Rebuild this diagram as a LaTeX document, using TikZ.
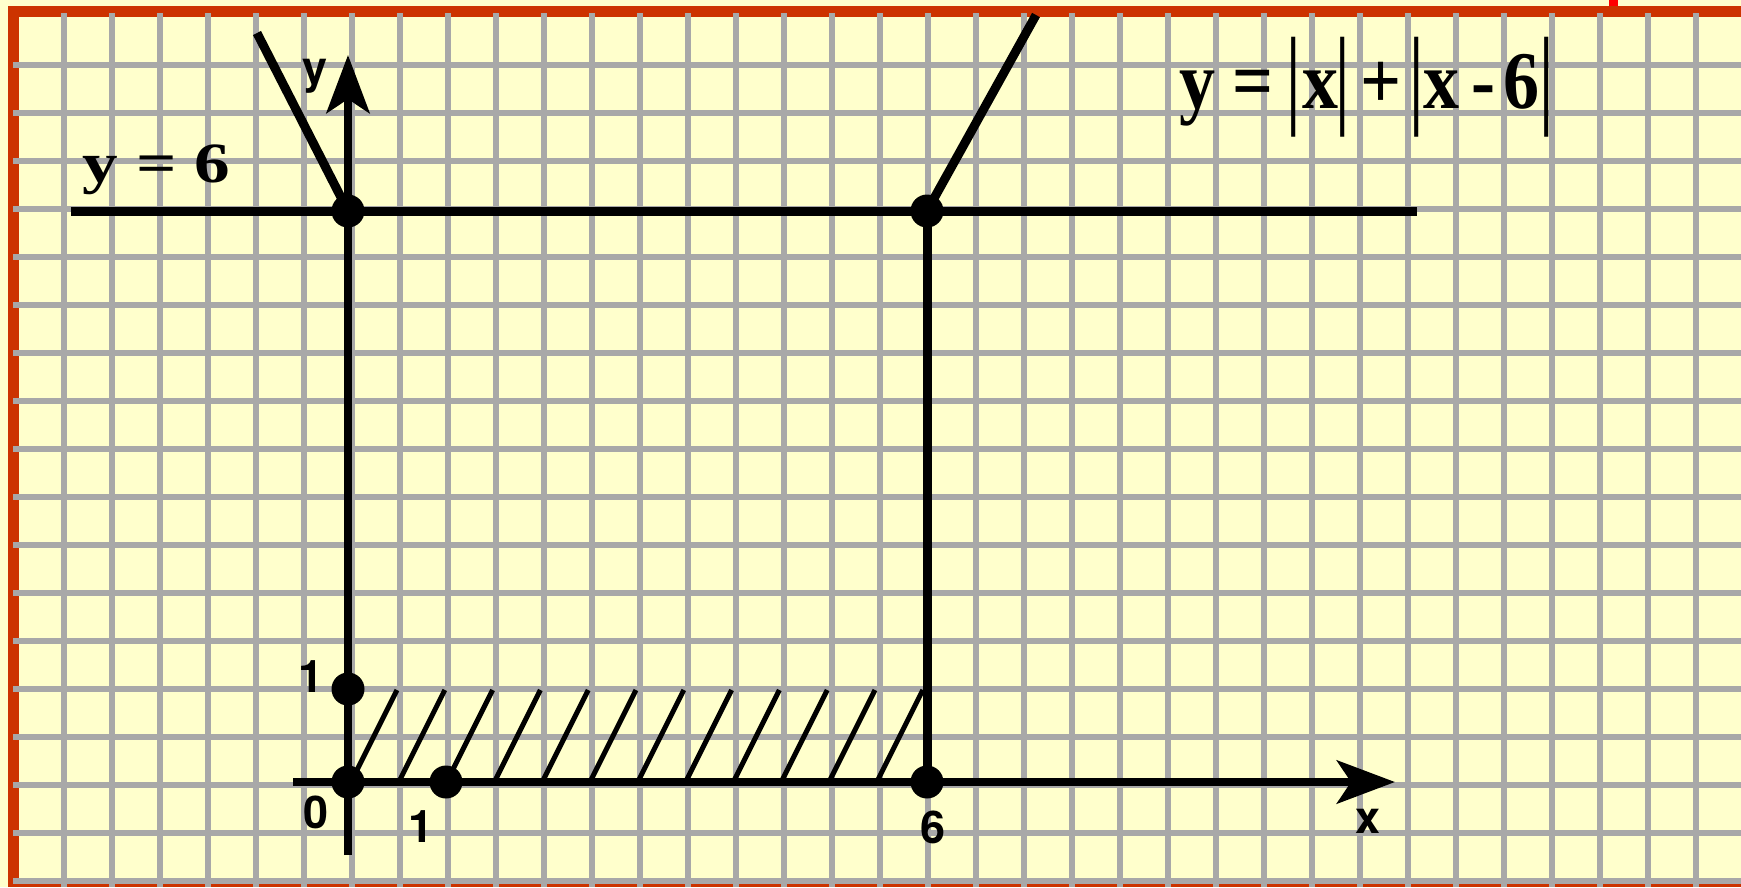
\documentclass[tikz,border=0pt]{standalone}
\usepackage{fontspec}
\usepackage{graphicx}
\setmainfont{Liberation Serif}
\newfontfamily\lsans{TeX Gyre Heros}
\usetikzlibrary{arrows.meta}
\definecolor{paper}{RGB}{255,255,204}
\definecolor{framered}{RGB}{204,51,0}
\definecolor{gridgray}{RGB}{168,168,168}
\definecolor{markred}{RGB}{255,0,0}
\newcommand\eqtok[1]{\scalebox{0.88}[1]{#1}}
\newcommand\tallbar{\resizebox*{\width}{10mm}{\mdseries|}}
\begin{document}
\begin{tikzpicture}[x=0.1mm,y=-0.1mm,
  gridline/.style={draw=gridgray, line width=0.58mm},
  graphline/.style={draw=black, line width=0.9mm},
  axisline/.style={draw=black, line width=0.85mm, -{Stealth[length=5.8mm,width=4.3mm,inset=1.4mm]}},
  hatchline/.style={draw=black, line width=0.5mm},
  dot/.style={circle, fill=black, inner sep=0pt, minimum size=3.3mm},
  lbl/.style={font=\lsans\bfseries\fontsize{12.8pt}{15pt}\selectfont, inner sep=0pt, anchor=base},
  eqs/.style={font=\bfseries\fontsize{23.3pt}{28pt}\selectfont, inner sep=0pt, anchor=base},
  eqsmall/.style={font=\bfseries\fontsize{16.2pt}{19pt}\selectfont, inner sep=0pt, anchor=base west}]
\useasboundingbox (0,0) rectangle (1741,887);
% paper and frame
\fill[paper] (0,0) rectangle (1741,887);
\fill[framered] (8,6) rectangle (1741,17);
\fill[framered] (8,6) rectangle (19,887);
\fill[framered] (8,883) rectangle (1741,887);
\fill[markred] (1609,0) rectangle (1618,6);
% grid
\foreach \i in {0,...,34} \draw[gridline] ({64+48*\i},13) -- ({64+48*\i},887);
\foreach \j in {0,...,17} \draw[gridline] (13,{65+48*\j}) -- (1741,{65+48*\j});
% hatching
\foreach \k in {0,...,11} \draw[hatchline] ({351+47.8*\k},782) -- ({397+47.8*\k},690);
% points
\node[dot] (O) at (348,782) {};
\node[dot] (X1) at (446,782) {};
\node[dot] (Y1) at (348,689) {};
\node[dot] (X6) at (927,782) {};
\node[dot] (A) at (348,211) {};
\node[dot] (B) at (927,211) {};
\coordinate (yb) at (348,855);
\coordinate (yt) at (348,55);
\coordinate (xl) at (293,782);
\coordinate (xr) at (1395,782);
\coordinate (hl) at (71,211);
\coordinate (hr) at (1417,211);
\coordinate (lt) at (257,33);
\coordinate (rt) at (1036,15);
% axes and graph
\draw[axisline] (yb) -- (yt);
\draw[axisline] (xl) -- (xr);
\draw[graphline] (hl) -- (hr);
\draw[graphline] (lt) -- (A.center);
\draw[graphline] (B.center) -- (rt);
\draw[graphline] (B.center) -- (X6.center);
% axis labels
\node[lbl] (ly) at (315,83) {y};
\node[lbl] (l1y) at (311.5,692) {1};
\node[lbl] (l0) at (316.5,828) {0};
\node[lbl] (l1x) at (421,842) {1};
\node[lbl] (l6) at (933.5,843) {6};
\node[lbl] (lx) at (1368,833) {x};
% y = 6
\node[eqsmall] (ly6) at (82,182) {\scalebox{1.25}[1]{y = 6}};
% y = |x| + |x - 6|
\node[eqs] (ey) at (1197.5,108) {\eqtok{y}};
\node[eqs] (eeq) at (1253.5,108) {\eqtok{=}};
\node[eqs, anchor=center] (eb1) at (1294,87.5) {\tallbar};
\node[eqs] (ex1) at (1320.5,108) {\eqtok{x}};
\node[eqs, anchor=center] (eb2) at (1343,87.5) {\tallbar};
\node[eqs] (eplus) at (1381.5,108) {\eqtok{+}};
\node[eqs, anchor=center] (eb3) at (1417,87.5) {\tallbar};
\node[eqs] (ex2) at (1442,108) {\eqtok{x}};
\node[eqs] (eminus) at (1483,108) {\eqtok{-}};
\node[eqs] (e6) at (1521.5,108) {\eqtok{6}};
\node[eqs, anchor=center] (eb4) at (1547,87.5) {\tallbar};
\end{tikzpicture}
\end{document}
